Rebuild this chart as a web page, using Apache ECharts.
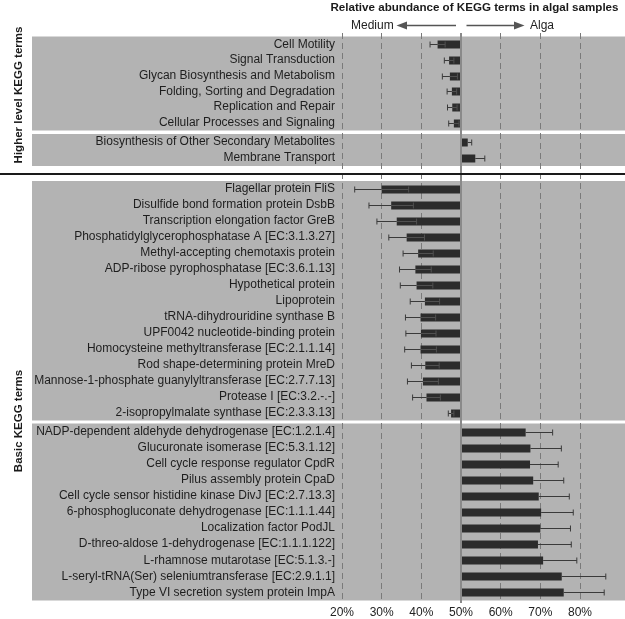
<!DOCTYPE html>
<html>
<head>
<meta charset="utf-8">
<script src="https://cdn.jsdelivr.net/npm/echarts@6/dist/echarts.min.js"></script>
<style>
html,body{margin:0;padding:0;background:#fff;}
#chart{width:625px;height:619px;}
</style>
</head>
<body>
<div id="chart"></div>
<script>
// ---- Data ----
const higherMediumTerms = ['Cell Motility','Signal Transduction','Glycan Biosynthesis and Metabolism','Folding, Sorting and Degradation','Replication and Repair','Cellular Processes and Signaling'];
const higherMediumValues = [44.1, 47.0, 47.2, 47.7, 47.8, 48.2];
const higherMediumErrors = [1.9, 1.2, 1.9, 1.2, 1.2, 1.3];

const higherAlgaTerms = ['Biosynthesis of Other Secondary Metabolites','Membrane Transport'];
const higherAlgaValues = [51.7, 53.6];
const higherAlgaErrors = [1.0, 2.4];

const basicMediumTerms = ['Flagellar protein FliS','Disulfide bond formation protein DsbB','Transcription elongation factor GreB','Phosphatidylglycerophosphatase A [EC:3.1.3.27]','Methyl-accepting chemotaxis protein','ADP-ribose pyrophosphatase [EC:3.6.1.13]','Hypothetical protein','Lipoprotein','tRNA-dihydrouridine synthase B','UPF0042 nucleotide-binding protein','Homocysteine methyltransferase [EC:2.1.1.14]','Rod shape-determining protein MreD','Mannose-1-phosphate guanylyltransferase [EC:2.7.7.13]','Protease I [EC:3.2.-.-]','2-isopropylmalate synthase [EC:2.3.3.13]'];
const basicMediumValues = [30.0, 32.4, 33.8, 36.3, 39.2, 38.5, 38.8, 40.9, 39.8, 39.9, 39.8, 41.0, 40.4, 41.3, 47.5];
const basicMediumErrors = [6.8, 5.6, 5.0, 4.5, 3.8, 4.0, 4.1, 3.7, 3.8, 3.8, 4.0, 3.5, 3.9, 3.5, 0.7];

const basicAlgaTerms = ['NADP-dependent aldehyde dehydrogenase [EC:1.2.1.4]','Glucuronate isomerase [EC:5.3.1.12]','Cell cycle response regulator CpdR','Pilus assembly protein CpaD','Cell cycle sensor histidine kinase DivJ [EC:2.7.13.3]','6-phosphogluconate dehydrogenase [EC:1.1.1.44]','Localization factor PodJL','D-threo-aldose 1-dehydrogenase [EC:1.1.1.122]','L-rhamnose mutarotase [EC:5.1.3.-]','L-seryl-tRNA(Ser) seleniumtransferase [EC:2.9.1.1]','Type VI secretion system protein ImpA'];
const basicAlgaValues = [66.3, 67.5, 67.4, 68.2, 69.6, 70.2, 70.0, 69.4, 70.7, 75.4, 75.9];
const basicAlgaErrors = [6.8, 7.8, 7.1, 7.7, 7.7, 8.1, 7.6, 8.4, 8.5, 11.1, 10.2];

const axisTicks = [20, 30, 40, 50, 60, 70, 80];
const baseline = 50;

// ---- Layout ----
const FONT = '"Liberation Sans", Arial, sans-serif';
const tickLeftPx = 342, tickRightPx = 580, panelLeftPx = 32, chartW = 625;
const pxPerUnit = (tickRightPx - tickLeftPx) / (axisTicks[axisTicks.length-1] - axisTicks[0]);
const panelMin = axisTicks[0] - (tickLeftPx - panelLeftPx) / pxPerUnit;
const panelMax = axisTicks[axisTicks.length-1] + (chartW - tickRightPx) / pxPerUnit;

const panels = [
  {terms: higherMediumTerms, values: higherMediumValues, errors: higherMediumErrors, top: 36.5, height: 94},
  {terms: higherAlgaTerms, values: higherAlgaValues, errors: higherAlgaErrors, top: 134, height: 32},
  {terms: basicMediumTerms, values: basicMediumValues, errors: basicMediumErrors, top: 181, height: 239.5},
  {terms: basicAlgaTerms, values: basicAlgaValues, errors: basicAlgaErrors, top: 423.5, height: 177}
];

function renderBar(params, api) {
  const v = api.value(0), cat = api.value(1), e = api.value(2);
  const b = api.coord([baseline, cat]);
  const end = api.coord([v, cat]);
  const lo = api.coord([v - e, cat]);
  const hi = api.coord([v + e, cat]);
  const bh = 8, cap = 6;
  const x0 = Math.min(b[0], end[0]);
  const w = Math.abs(end[0] - b[0]);
  const y = Math.round(b[1]) + 0.5;
  const ws = {stroke: '#3a3a3a', lineWidth: 1};
  const inner = {stroke: '#505050', lineWidth: 1};
  const children = [
    {type: 'rect', shape: {x: x0, y: y - bh/2, width: w, height: bh}, style: {fill: '#2c2c2c'}}
  ];
  if (v < baseline) {
    children.push(
      {type: 'line', shape: {x1: lo[0], y1: y, x2: end[0], y2: y}, style: ws},
      {type: 'line', shape: {x1: end[0], y1: y, x2: hi[0], y2: y}, style: inner},
      {type: 'line', shape: {x1: lo[0], y1: y - cap/2, x2: lo[0], y2: y + cap/2}, style: ws},
      {type: 'line', shape: {x1: hi[0], y1: y - cap/2, x2: hi[0], y2: y + cap/2}, style: inner}
    );
  } else {
    children.push(
      {type: 'line', shape: {x1: end[0], y1: y, x2: hi[0], y2: y}, style: ws},
      {type: 'line', shape: {x1: hi[0], y1: y - cap/2, x2: hi[0], y2: y + cap/2}, style: ws}
    );
  }
  return {type: 'group', children};
}

const grid = [{left: tickLeftPx, right: chartW - tickRightPx, top: 33, bottom: 16, show: false}];
const xAxis = [{
  gridIndex: 0, type: 'value', min: axisTicks[0], max: axisTicks[axisTicks.length-1], interval: 10,
  axisLine: {show: false}, axisTick: {show: false},
  axisLabel: {formatter: '{value}%', fontSize: 12, color: '#222', fontFamily: FONT, margin: 4},
  splitLine: {show: true, lineStyle: {color: '#7a7a7a', type: [6, 4], width: 1}},
  z: 1
}];
const yAxis = [{gridIndex: 0, type: 'value', min: 0, max: 1, show: false}];
const series = [{
  type: 'line', xAxisIndex: 0, yAxisIndex: 0, data: [], silent: true,
  markLine: {silent: true, symbol: 'none', label: {show: false},
    lineStyle: {color: '#8a8a8a', type: 'solid', width: 2},
    data: [{xAxis: baseline}]},
  z: 5
}];

panels.forEach((p, i) => {
  const gi = i + 1;
  grid.push({left: panelLeftPx, right: 0, top: p.top, height: p.height, show: true,
    backgroundColor: '#b3b3b3', borderWidth: 0, z: 0});
  xAxis.push({gridIndex: gi, type: 'value', min: panelMin, max: panelMax, show: false});
  yAxis.push({gridIndex: gi, type: 'category', data: p.terms, inverse: true,
    offset: -(tickLeftPx - panelLeftPx),
    axisLine: {show: false}, axisTick: {show: false}, splitLine: {show: false},
    axisLabel: {interval: 0, fontSize: 12, color: '#1e1e1e', fontFamily: FONT, margin: 7},
    z: 3});
  series.push({
    type: 'custom', xAxisIndex: gi, yAxisIndex: gi,
    renderItem: renderBar,
    encode: {x: 0, y: 1},
    data: p.values.map((v, k) => [v, k, p.errors[k]]),
    silent: true, z: 3
  });
});

const chart = echarts.init(document.getElementById('chart'), null, {renderer: 'canvas'});
chart.setOption({
  backgroundColor: '#ffffff',
  animation: false,
  grid, xAxis, yAxis, series,
  graphic: [
    {type: 'text', x: 474.5, y: 8, style: {text: 'Relative abundance of KEGG terms in algal samples', font: 'bold 11.6px ' + FONT, fill: '#1a1a1a', textAlign: 'center', textVerticalAlign: 'middle'}, z: 10},
    {type: 'text', x: 351, y: 26, style: {text: 'Medium', font: '12px ' + FONT, fill: '#222', textAlign: 'left', textVerticalAlign: 'middle'}, z: 10},
    {type: 'line', shape: {x1: 405, y1: 25.5, x2: 456, y2: 25.5}, style: {stroke: '#555', lineWidth: 1.5}, z: 10},
    {type: 'polygon', shape: {points: [[396.5, 25.5], [407, 21.5], [407, 29.5]]}, style: {fill: '#555'}, z: 10},
    {type: 'line', shape: {x1: 466.5, y1: 25.5, x2: 516, y2: 25.5}, style: {stroke: '#555', lineWidth: 1.5}, z: 10},
    {type: 'polygon', shape: {points: [[524.5, 25.5], [514, 21.5], [514, 29.5]]}, style: {fill: '#555'}, z: 10},
    {type: 'text', x: 530, y: 26, style: {text: 'Alga', font: '12px ' + FONT, fill: '#222', textAlign: 'left', textVerticalAlign: 'middle'}, z: 10},
    {type: 'line', shape: {x1: 0, y1: 174, x2: 625, y2: 174}, style: {stroke: '#1a1a1a', lineWidth: 2}, z: 10},
    {type: 'text', x: 19, y: 95, rotation: Math.PI/2,
      style: {text: 'Higher level KEGG terms', font: 'bold 11.5px ' + FONT, fill: '#1a1a1a', textAlign: 'center', textVerticalAlign: 'middle'}, z: 10},
    {type: 'text', x: 19, y: 421, rotation: Math.PI/2,
      style: {text: 'Basic KEGG terms', font: 'bold 11.5px ' + FONT, fill: '#1a1a1a', textAlign: 'center', textVerticalAlign: 'middle'}, z: 10}
  ]
});
</script>
</body>
</html>
